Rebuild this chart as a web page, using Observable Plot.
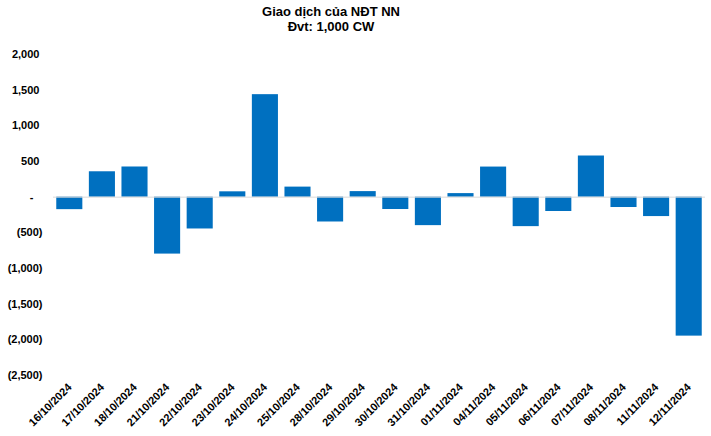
<!DOCTYPE html>
<html>
<head>
<meta charset="utf-8">
<script src="https://cdn.jsdelivr.net/npm/d3@7"></script>
<script src="https://cdn.jsdelivr.net/npm/@observablehq/plot@0.6"></script>
<style>
  body { margin: 0; background: #fff; font-family: "Liberation Sans", Arial, sans-serif; }
  #title { width: 662px; text-align: center; font-weight: bold; font-size: 13px; line-height: 15px; padding-top: 4px; height: 30px; color: #000; }
</style>
</head>
<body>
<div id="title"><div>Giao dịch của NĐT NN</div><div>Đvt: 1,000 CW</div></div>
<div id="chart"></div>
<script>
const dates = ["16/10/2024","17/10/2024","18/10/2024","21/10/2024","22/10/2024","23/10/2024","24/10/2024","25/10/2024","28/10/2024","29/10/2024","30/10/2024","31/10/2024","01/11/2024","04/11/2024","05/11/2024","06/11/2024","07/11/2024","08/11/2024","11/11/2024","12/11/2024"];
const values = [-175, 356, 423, -798, -446, 75, 1437, 141, -348, 78, -173, -399, 50, 422, -413, -201, 577, -145, -272, -1948];
const yTicks = [2000, 1500, 1000, 500, 0, -500, -1000, -1500, -2000, -2500];

const data = dates.map((d, i) => ({date: d, value: values[i]}));
const fmt = d3.format(",");
const yFmt = d => d === 0 ? "-\u00a0\u00a0\u00a0" : d < 0 ? `(${fmt(-d)})` : fmt(d) + "\u00a0";

const chart = Plot.plot({
  width: 711,
  height: 402,
  marginTop: 20,
  marginBottom: 61,
  marginLeft: 53,
  marginRight: 6,
  style: {fontFamily: "'Liberation Sans', Arial, sans-serif", fontSize: "11px", fontWeight: "bold", color: "#000"},
  x: {domain: dates, paddingInner: 0.2, paddingOuter: 0.1, round: false, label: null},
  y: {domain: [-2500, 2000], label: null},
  marks: [
    Plot.barY(data, {x: "date", y: "value", fill: "#0070C0"}),
    Plot.ruleY([0], {stroke: "#d9d9d9", strokeWidth: 1}),
    Plot.axisY({ticks: yTicks, tickFormat: yFmt, tickSize: 0, tickPadding: 11, label: null, fontWeight: "bold"}),
    Plot.axisX({tickRotate: -45, tickSize: 0, tickPadding: 10, label: null, fontWeight: "bold"})
  ]
});
document.getElementById("chart").appendChild(chart);
</script>
</body>
</html>
